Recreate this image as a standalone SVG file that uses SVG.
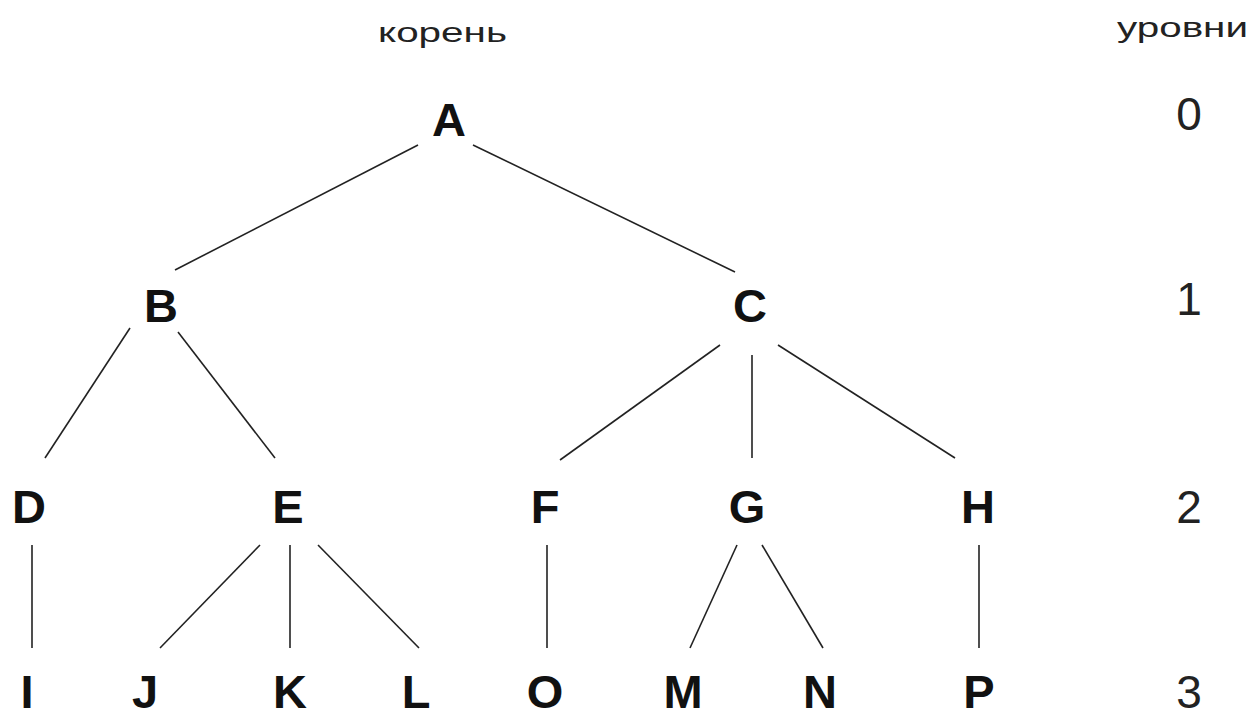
<svg xmlns="http://www.w3.org/2000/svg" width="1258" height="721" viewBox="0 0 1258 721">
<style>
.n{font-family:"Liberation Sans",Arial,sans-serif;font-weight:bold;font-size:47px;fill:#111;text-anchor:middle}
.lv{font-family:"Liberation Sans",Arial,sans-serif;font-size:46px;fill:#222;text-anchor:middle}
.cap{font-family:"Liberation Sans",Arial,sans-serif;font-size:27px;fill:#222}
.e{stroke:#222;stroke-width:1.6;fill:none}
</style>
<rect width="1258" height="721" fill="#fff"/>
<text class="cap" x="378" y="42" textLength="129" lengthAdjust="spacingAndGlyphs">корень</text>
<text class="cap" x="1117" y="37" textLength="131" lengthAdjust="spacingAndGlyphs">уровни</text>
<g id="levels">
<text class="lv" x="1189" y="130">0</text>
<text class="lv" x="1189" y="315">1</text>
<text class="lv" x="1189" y="523">2</text>
<text class="lv" x="1189" y="708">3</text>
</g>
<g id="connectors">
<line class="e" x1="418" y1="145" x2="175" y2="270"/>
<line class="e" x1="473" y1="145" x2="735" y2="272"/>
<line class="e" x1="130" y1="328" x2="45" y2="458"/>
<line class="e" x1="178" y1="332" x2="275" y2="458"/>
<line class="e" x1="720" y1="345" x2="560" y2="460"/>
<line class="e" x1="752" y1="355" x2="752" y2="458"/>
<line class="e" x1="778" y1="345" x2="955" y2="458"/>
<line class="e" x1="32" y1="545" x2="32" y2="648"/>
<line class="e" x1="260" y1="545" x2="160" y2="648"/>
<line class="e" x1="290" y1="545" x2="290" y2="648"/>
<line class="e" x1="318" y1="545" x2="419" y2="648"/>
<line class="e" x1="547" y1="545" x2="547" y2="648"/>
<line class="e" x1="737" y1="545" x2="690" y2="648"/>
<line class="e" x1="762" y1="545" x2="823" y2="648"/>
<line class="e" x1="979" y1="545" x2="979" y2="648"/>
</g>
<g id="nA"><text class="n" x="449" y="136">A</text></g>
<g id="nB"><text class="n" x="161" y="322">B</text></g>
<g id="nC"><text class="n" x="750" y="322">C</text></g>
<g id="nD"><text class="n" x="29" y="523">D</text></g>
<g id="nE"><text class="n" x="288" y="523">E</text></g>
<g id="nF"><text class="n" x="545" y="523">F</text></g>
<g id="nG"><text class="n" x="747" y="523">G</text></g>
<g id="nH"><text class="n" x="978" y="523">H</text></g>
<g id="nI"><text class="n" x="27" y="708">I</text></g>
<g id="nJ"><text class="n" x="145" y="708">J</text></g>
<g id="nK"><text class="n" x="290" y="708">K</text></g>
<g id="nL"><text class="n" x="416" y="708">L</text></g>
<g id="nO"><text class="n" x="545" y="708">O</text></g>
<g id="nM"><text class="n" x="683" y="708">M</text></g>
<g id="nN"><text class="n" x="820" y="708">N</text></g>
<g id="nP"><text class="n" x="979" y="708">P</text></g>
</svg>
